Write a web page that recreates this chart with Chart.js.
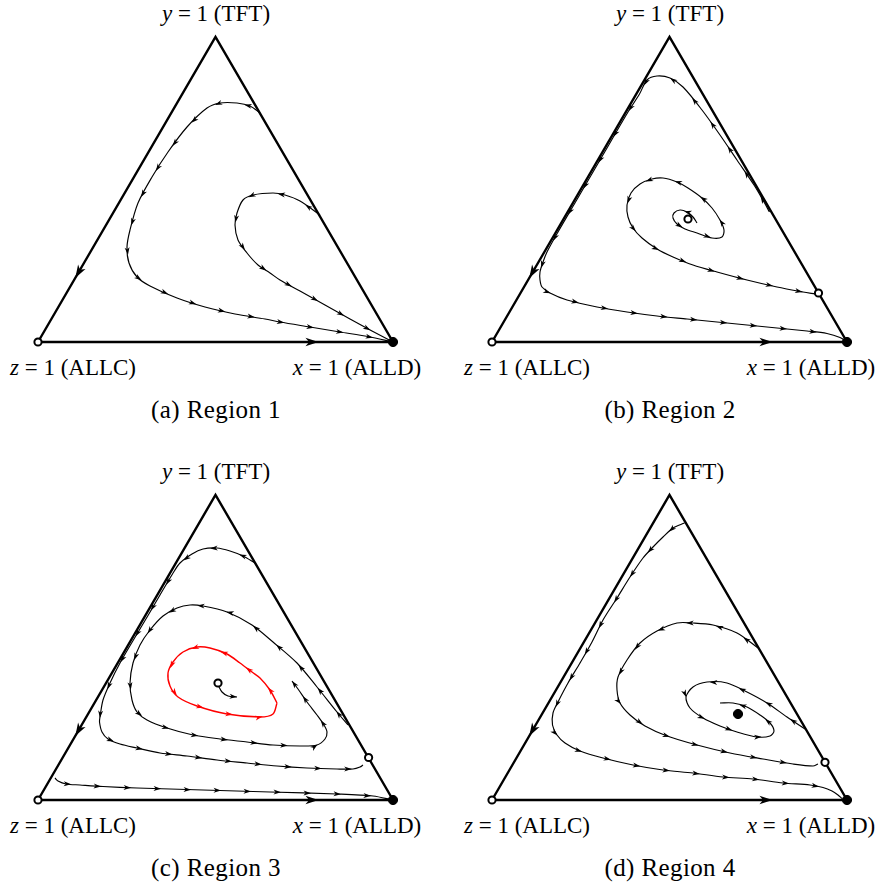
<!DOCTYPE html>
<html>
<head>
<meta charset="utf-8">
<script src="https://cdn.jsdelivr.net/npm/chart.js@4.4.1/dist/chart.umd.min.js"></script>
<style>
  html, body { margin: 0; padding: 0; background: #fff; }
  #fig { position: relative; width: 879px; height: 890px; font-family: "Liberation Serif", "Times New Roman", serif; color: #000; }
  .panel { position: absolute; width: 440px; height: 445px; }
  .panel canvas { position: absolute; left: 28px; top: 27px; }
  .lbl { position: absolute; width: 200px; text-align: center; font-size: 23px; line-height: 26px; white-space: nowrap; }
  .cap { position: absolute; left: 86px; top: 396px; width: 260px; text-align: center; font-size: 25px; line-height: 28px; letter-spacing: 0.4px; white-space: nowrap; }
  .top { left: 116px; top: 1px; }
  .left { left: -27px; top: 355px; }
  .right { left: 257px; top: 355px; }
</style>
</head>
<body>
<div id="fig"></div>
<script>
// simplex frame: z=1 (ALLC) at [0,0], x=1 (ALLD) at [355,0], y=1 (TFT) at [177.5,305]
const SIDE = 355;
const HEIGHT = 305;
const corners = [[0, 0], [355, 0], [177.5, 305]];

const vertexLabels = ['<i>y</i> = 1 (TFT)', '<i>z</i> = 1 (ALLC)', '<i>x</i> = 1 (ALLD)'];
const captions = ['(a) Region 1', '(b) Region 2', '(c) Region 3', '(d) Region 4'];

// Region 1
const r1Outer = [[222,229],[212,236],[199,239],[182,239],[169,234],[149,215],[130,190],[114,165],[100,139],[92,112],[89,95],[91,79],[99,65],[112,56],[139,44],[167,35],[197,28],[227,23],[242,20],[272,15],[302,10],[332,5],[355,0]];
const r1Inner = [[282,127],[262,141],[247,147],[235,149],[215,147],[205,142],[199,129],[197,117],[200,102],[209,89],[220,77],[232,69],[242,62],[262,51],[287,37],[312,23],[334,11],[355,0]];
const r1Sources = [[0,0]];
const r1Sinks = [[355,0]];

// Region 2
const r2Outer = [[277.5,130],[272,140],[262,157],[245,182],[228,207],[210,232],[191,255],[178,264],[165,266],[155,262],[147.5,248],[136,230],[118.5,200],[101,170],[83.5,140],[66,110],[55,90],[51,80],[48,70],[48,62],[50,55],[58,49],[75,42],[105,35],[135,30],[165,26],[195,23],[225,20],[255,17],[285,14],[315,11],[335,8.5],[348,4.5],[355,0]];
const r2Spiral = [[205,119],[201,125],[195,130],[188,132],[182,129],[181,124],[185,118],[193,113],[205,109],[220,104],[230,105],[232,112],[228,122],[220,134],[210,144],[196,154],[185,160],[171,164],[160,163],[148,158],[139,149],[135,137],[136,125],[141,114],[150,104],[165,93],[181,85],[201,77],[225,70],[255,62],[285,55],[311,50],[323,48]];
const r2Sources = [[0,0],[196,123],[326.5,49]];
const r2Sinks = [[355,0]];

// Region 3
const r3Top = [[217,237],[205,244],[192,249],[179,252],[165,251],[154,246],[142,237],[134.5,226],[122,205],[110.3,185],[95.4,160],[82,137],[72,117],[65,100],[62,83],[61.5,78],[64,68],[70,61],[82,56],[99,52],[122,47],[149,44],[179,40],[209,37],[239,34],[269,32],[299,31],[315,31],[322,33],[325,35]];
const r3Second = [[310,75],[299,88],[279,113],[259,137],[235,158],[214,175],[189,188],[165,194],[152,195],[139,192],[125,184],[112,170],[102,155],[95,137],[92,117],[94,100],[99,88],[109,80],[129,72],[155,65],[182,61],[209,58],[235,55],[262,54],[279,55],[287,61],[289,68],[286,75],[279,85],[269,98],[260,111],[254,119]];
const r3Cycle = [[239,97],[232,110],[222,122],[214,128],[202,137],[189,146],[172,152],[159,153],[145,148],[135,138],[130,127],[132,114],[140,103],[159,94],[189,86],[222,83],[235,86],[239,97]];
const r3Focus = [[180,115],[184,108],[190,104],[199,103]];
const r3Bottom = [[17,22],[20,19],[28,16],[42,15],[65,13.5],[99,12],[165,10],[232,8],[299,6],[335,4],[355,0]];
const r3Sources = [[0,0],[180,117],[330.6,42.5]];
const r3Sinks = [[355,0]];

// Region 4
const r4Top = [[192.5,277],[181,272],[171,263],[161,253],[151,242],[138,223],[125,202],[111,180],[100,158],[88,137],[76,117],[66,98],[61,87],[60.5,75],[65,65],[73,57],[88,49],[111,42],[141,35],[171,30],[201,27],[231,23],[261,21],[291,17],[318,15],[331,12.5],[340,9],[346,5],[350,1.5]];
const r4Middle = [[266,152],[245,167],[221,175],[201,177],[185,177],[165,169],[148,157],[135,140],[126,123],[125,110],[128,97],[138,85],[153,74],[175,64],[205,55],[238,47],[271,41],[301,36],[321,34],[326,36]];
const r4Inner = [[313,71],[295,83],[275,97],[255,108],[235,117],[215,118],[201,113],[194,103],[198,92],[211,82],[228,74],[245,68],[265,63],[278,64],[282,69],[278,77],[268,85],[255,93],[241,97],[228,97]];
const r4Sources = [[0,0],[333,37.7]];
const r4Sinks = [[355,0],[246,86]];

const toXY = arr => arr.map(p => ({ x: p[0], y: p[1] }));

function drawHead(ctx, x, y, ang, len, w) {
  ctx.save();
  ctx.translate(x, y);
  ctx.rotate(ang);
  ctx.beginPath();
  ctx.moveTo(0, 0);
  ctx.lineTo(-len, -w);
  ctx.lineTo(-len * 0.72, 0);
  ctx.lineTo(-len, w);
  ctx.closePath();
  ctx.fill();
  ctx.restore();
}

// arrowheads along the flow lines
const flowArrows = {
  id: 'flowArrows',
  afterDatasetsDraw(chart) {
    const ctx = chart.ctx;
    chart.data.datasets.forEach((ds, i) => {
      if (!ds.arrowSpacing && !ds.arrowSegments) return;
      const pts = chart.getDatasetMeta(i).data.map(p => [p.x, p.y]);
      const segs = [];
      let total = 0;
      for (let k = 1; k < pts.length; k++) {
        const len = Math.hypot(pts[k][0] - pts[k - 1][0], pts[k][1] - pts[k - 1][1]);
        segs.push({ a: pts[k - 1], b: pts[k], start: total, len: len });
        total += len;
      }
      const put = (s, t, size, w) => {
        const x = s.a[0] + (s.b[0] - s.a[0]) * t;
        const y = s.a[1] + (s.b[1] - s.a[1]) * t;
        drawHead(ctx, x, y, Math.atan2(s.b[1] - s.a[1], s.b[0] - s.a[0]), size, w);
      };
      ctx.save();
      ctx.fillStyle = ds.borderColor;
      if (ds.arrowSegments) {
        ds.arrowSegments.forEach(([k, f]) => put(segs[k], f, 13, 4.3));
      } else {
        for (let d = ds.arrowSpacing * 0.6; d < total - 6; d += ds.arrowSpacing) {
          const s = segs.find(sg => d <= sg.start + sg.len);
          put(s, (d - s.start) / s.len, 7.5, 2.5);
        }
        if (ds.arrowEnd) put(segs[segs.length - 1], 1, 7.5, 2.5);
      }
      ctx.restore();
    });
  }
};

function flow(arr, color, extra) {
  return Object.assign({
    data: toXY(arr),
    showLine: true,
    borderColor: color || '#000',
    borderWidth: color ? 1.4 : 1.15,
    pointRadius: 0,
    tension: 0.3,
    fill: false,
    clip: false,
    arrowSpacing: 30
  }, extra || {});
}

function makePanel(idx, left, top, curves, sources, sinks) {
  const fig = document.getElementById('fig');
  const div = document.createElement('div');
  div.className = 'panel';
  div.style.left = left + 'px';
  div.style.top = top + 'px';
  div.innerHTML =
    '<canvas width="375" height="325"></canvas>' +
    '<div class="lbl top">' + vertexLabels[0] + '</div>' +
    '<div class="lbl left">' + vertexLabels[1] + '</div>' +
    '<div class="lbl right">' + vertexLabels[2] + '</div>' +
    '<div class="cap">' + captions[idx] + '</div>';
  fig.appendChild(div);

  const fixed = sources.concat(sinks);
  const datasets = [
    {
      data: toXY(fixed),
      showLine: false,
      pointStyle: 'circle',
      pointRadius: fixed.map((p, k) => k < sources.length ? 3.6 : 4.6),
      pointBorderWidth: fixed.map((p, k) => k < sources.length ? 2 : 1),
      pointBorderColor: '#000',
      pointBackgroundColor: fixed.map((p, k) => k < sources.length ? '#fff' : '#000'),
      clip: false
    },
    {
      // frame: ALLC -> ALLD -> TFT -> ALLC
      data: toXY([corners[0], corners[1], corners[2], corners[0]]),
      showLine: true,
      borderColor: '#000',
      borderWidth: 2.4,
      borderJoinStyle: 'miter',
      pointRadius: 0,
      tension: 0,
      clip: false,
      arrowSegments: [[0, 0.79], [2, 0.79]]
    }
  ].concat(curves);

  new Chart(div.querySelector('canvas'), {
    type: 'scatter',
    data: { datasets: datasets },
    options: {
      responsive: false,
      animation: false,
      layout: { padding: 10 },
      plugins: { legend: { display: false }, tooltip: { enabled: false } },
      scales: {
        x: { type: 'linear', min: 0, max: SIDE, display: false },
        y: { type: 'linear', min: 0, max: HEIGHT, display: false }
      }
    },
    plugins: [flowArrows]
  });
}

makePanel(0, 0, 0, [flow(r1Outer), flow(r1Inner)], r1Sources, r1Sinks);
makePanel(1, 454, 0, [flow(r2Outer), flow(r2Spiral)], r2Sources, r2Sinks);
makePanel(2, 0, 458, [
  flow(r3Top), flow(r3Second, null, { arrowEnd: true }), flow(r3Cycle, '#ff0000'),
  flow(r3Focus, null, { arrowSpacing: 100, arrowEnd: true }), flow(r3Bottom)
], r3Sources, r3Sinks);
makePanel(3, 454, 458, [flow(r4Top), flow(r4Middle), flow(r4Inner)], r4Sources, r4Sinks);
</script>
</body>
</html>
